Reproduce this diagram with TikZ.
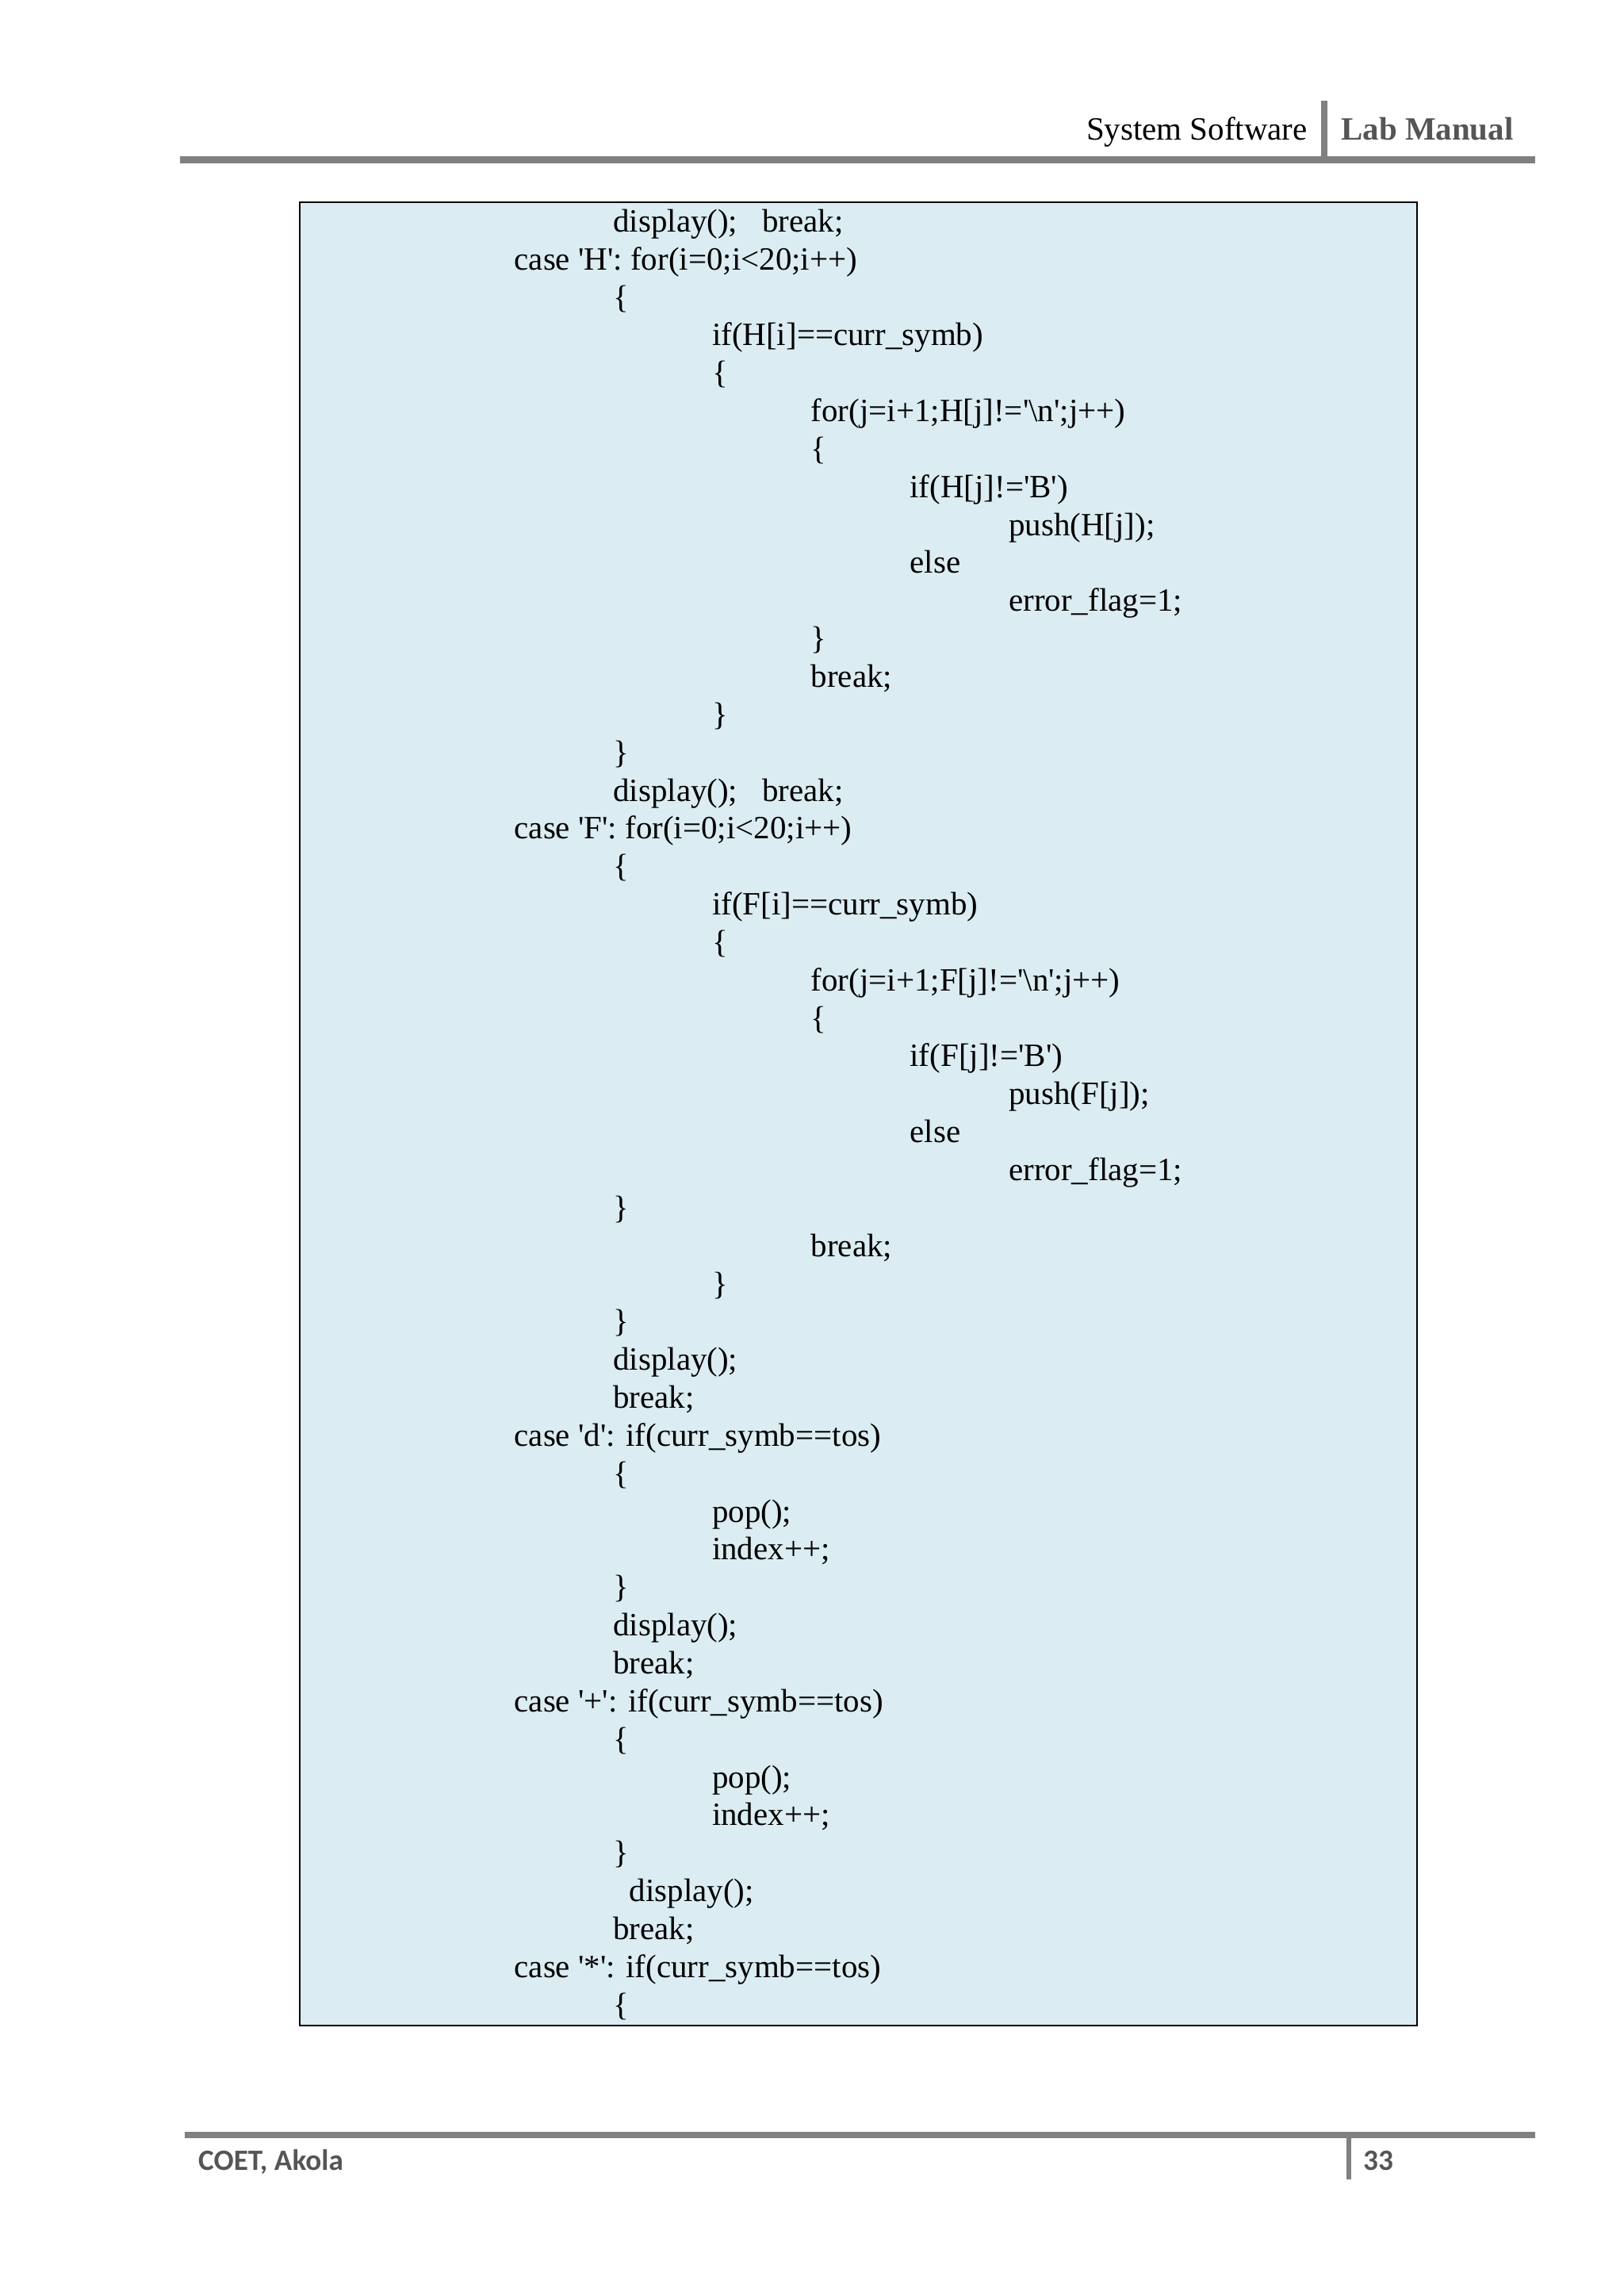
\documentclass[tikz,border=0pt]{standalone}
\usepackage{fontspec}
\setmainfont{Liberation Serif}
\newfontfamily\codefont{Liberation Serif}
\newfontfamily\footfont{Carlito}
\definecolor{boxblue}{RGB}{219,236,242}
\definecolor{rulegray}{RGB}{128,128,128}
\definecolor{txtgray}{RGB}{85,85,85}
\begin{document}
\begin{tikzpicture}[x=0.5pt,y=-0.5pt,
  code/.style={anchor=base west,inner sep=0pt,font=\codefont\fontsize{11}{13}\selectfont}]
\useasboundingbox (0,0) rectangle (1100,1555);
% header
\fill[rulegray] (122,106) rectangle (1040,110.5);
\fill[rulegray] (895,68) rectangle (899,108);
\node[anchor=base east,inner sep=0pt,font=\fontsize{11}{13}\selectfont] (hl) at (886,95) {System Software};
\node[anchor=base west,inner sep=0pt,font=\bfseries\fontsize{11}{13}\selectfont,text=txtgray] (hr) at (908,95) {Lab Manual};
% footer
\fill[rulegray] (125,1444) rectangle (1040,1448);
\fill[rulegray] (912,1446) rectangle (915,1476);
\node[anchor=base west,inner sep=0pt,font=\footfont\bfseries\fontsize{10}{12}\selectfont,text=txtgray] (fl) at (134,1470) {COET, Akola};
\node[anchor=base west,inner sep=0pt,font=\footfont\bfseries\fontsize{10}{12}\selectfont,text=txtgray] (fr) at (923,1470) {33};
% box
\draw[fill=boxblue,line width=0.5pt] (203,137) rectangle (960,1372);
\foreach \i/\x/\t in {
0/415/{display();\ \ \ break;},
1/348/{case 'H': for(i=0;i<20;i++)},
2/415/{\{},
3/482/{if(H[i]==curr\_symb)},
4/482/{\{},
5/549/{for(j=i+1;H[j]!='\textbackslash n';j++)},
6/549/{\{},
7/616/{if(H[j]!='B')},
8/683/{push(H[j]);},
9/616/{else},
10/683/{error\_flag=1;},
11/549/{\}},
12/549/{break;},
13/482/{\}},
14/415/{\}},
15/415/{display();\ \ \ break;},
16/348/{case 'F': for(i=0;i<20;i++)},
17/415/{\{},
18/482/{if(F[i]==curr\_symb)},
19/482/{\{},
20/549/{for(j=i+1;F[j]!='\textbackslash n';j++)},
21/549/{\{},
22/616/{if(F[j]!='B')},
23/683/{push(F[j]);},
24/616/{else},
25/683/{error\_flag=1;},
26/415/{\}},
27/549/{break;},
28/482/{\}},
29/415/{\}},
30/415/{display();},
31/415/{break;},
32/348/{case 'd': if(curr\_symb==tos)},
33/415/{\{},
34/482/{pop();},
35/482/{index++;},
36/415/{\}},
37/415/{display();},
38/415/{break;},
39/348/{case '+': if(curr\_symb==tos)},
40/415/{\{},
41/482/{pop();},
42/482/{index++;},
43/415/{\}},
44/426/{display();},
45/415/{break;},
46/348/{case '*': if(curr\_symb==tos)},
47/415/{\{}}
  \node[code] (l\i) at (\x,{157+25.7*\i}) {\t};
\end{tikzpicture}
\end{document}
